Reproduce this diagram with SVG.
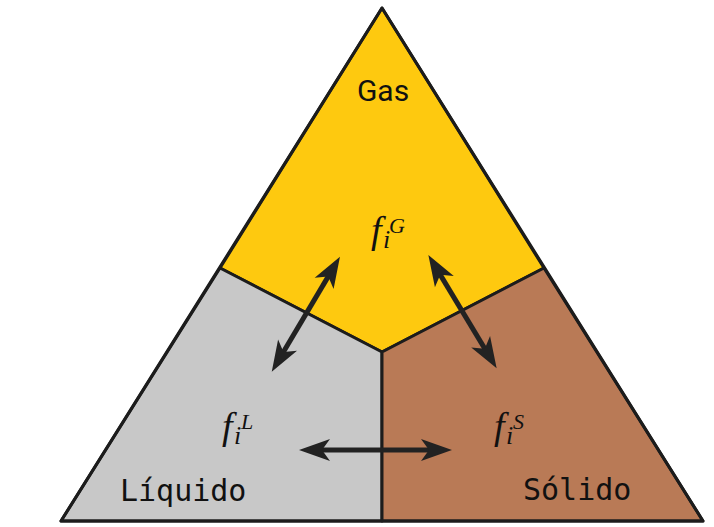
<svg xmlns="http://www.w3.org/2000/svg" width="714" height="527" viewBox="0 0 714 527">
  <style>
    .edge { stroke: #1c1c1c; stroke-width: 3; stroke-linejoin: round; }
    .lbl { font-family: "DejaVu Sans Mono", "Liberation Mono", monospace; font-size: 30px; fill: #111; }
    .gas { font-family: Roboto, "Liberation Sans", sans-serif; font-size: 30px; fill: #111; }
    .m { font-family: "Liberation Serif", "DejaVu Serif", serif; font-style: italic; fill: #111; }
    .arrow { stroke: #222; stroke-width: 5; fill: none; marker-start: url(#head); marker-end: url(#head); }
  </style>
  <defs>
    <marker id="head" viewBox="-17 -12 34 24" markerWidth="34" markerHeight="24" refX="0" refY="0" markerUnits="userSpaceOnUse" orient="auto-start-reverse">
      <path d="M15,0 L-16,-11 L-8,0 L-16,11 Z" fill="#222"/>
    </marker>
  </defs>
  <rect width="714" height="527" fill="#ffffff"/>

  <g id="gas">
    <polygon class="edge" points="382,8 220,268 382,352 544,268" fill="#FEC90F"/>
    <text class="gas" x="383" y="101" text-anchor="middle">Gas</text>
    <text class="m" x="371" y="243" font-size="38">f</text>
    <text class="m" x="383" y="248" font-size="26">i</text>
    <text class="m" x="389" y="233" font-size="22">G</text>
  </g>

  <g id="liquido">
    <polygon class="edge" points="220,268 382,352 382,521 61,521" fill="#C8C8C8"/>
    <text class="lbl" x="120" y="501">Líquido</text>
    <text class="m" x="222" y="439" font-size="38">f</text>
    <text class="m" x="234" y="444" font-size="26">i</text>
    <text class="m" x="241" y="429" font-size="22">L</text>
  </g>

  <g id="solido">
    <polygon class="edge" points="544,268 382,352 382,521 703,521" fill="#B97A56"/>
    <text class="lbl" x="523" y="500">Sólido</text>
    <text class="m" x="494" y="439" font-size="38">f</text>
    <text class="m" x="506" y="444" font-size="26">i</text>
    <text class="m" x="513" y="429" font-size="22">S</text>
  </g>

  <g id="outline">
    <polygon points="382,8 61,521 703,521" fill="none" class="edge"/>
  </g>

  <g id="connectors">
    <line class="arrow" x1="332.3" y1="269.6" x2="279.4" y2="358.8"/>
    <line class="arrow" x1="436.1" y1="267.9" x2="488.9" y2="355.5"/>
    <line class="arrow" x1="314" y1="450" x2="437" y2="450"/>
  </g>
</svg>
